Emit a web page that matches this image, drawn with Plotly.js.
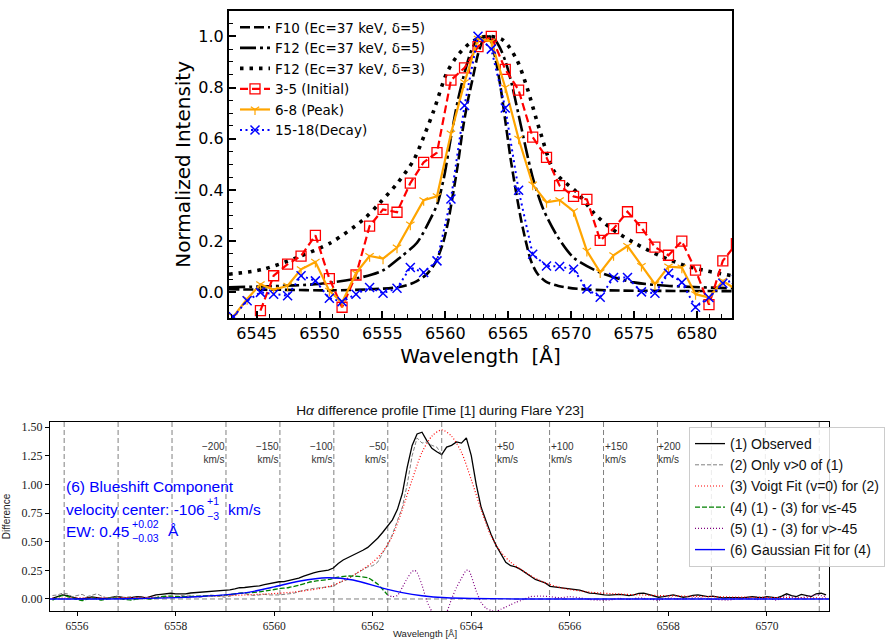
<!DOCTYPE html>
<html><head><meta charset="utf-8">
<script src="https://cdn.plot.ly/plotly-3.0.1.min.js"></script>
<style>html,body{margin:0;padding:0;background:#fff}#chart{width:891px;height:640px}</style>
</head><body><div id="chart"></div>
<script>
// ================= TOP PANEL DATA =================
// model curves
const f10Wave = [6542.8,6547,6551,6554,6556.2,6557.5,6558.5,6559.2,6559.8,6560.2,6560.6,6561.0,6561.4,6561.8,6562.2,6562.6,6563.0,6563.3,6563.6,6564.0,6564.4,6564.8,6565.2,6565.6,6566.0,6566.4,6566.8,6567.3,6568.0,6569.0,6570.5,6573,6577,6582.8];
const f10Int  = [0.012,0.010,0.008,0.012,0.020,0.038,0.070,0.115,0.190,0.270,0.380,0.500,0.640,0.750,0.840,0.930,0.985,1.000,0.985,0.910,0.800,0.660,0.520,0.400,0.290,0.200,0.125,0.075,0.042,0.025,0.014,0.008,0.006,0.005];

const f12d5Wave = [6542.8,6546,6550,6553,6555,6556.5,6557.75,6558.8,6559.4,6559.9,6560.5,6561.0,6561.6,6562.2,6562.8,6563.3,6563.8,6564.3,6564.8,6565.3,6565.8,6566.2,6566.6,6567.0,6567.8,6568.9,6570.2,6572.3,6575,6577.6,6582.8];
const f12d5Int  = [0.020,0.024,0.033,0.055,0.085,0.140,0.194,0.285,0.350,0.450,0.620,0.750,0.870,0.960,0.995,1.000,0.995,0.960,0.900,0.810,0.700,0.609,0.520,0.440,0.324,0.220,0.136,0.078,0.039,0.026,0.016];

const f12d3Wave = [6542.8,6545.5,6548.2,6550.9,6553.5,6554.8,6556.2,6557.5,6558.4,6559.1,6560.1,6560.9,6562.0,6563.3,6564.6,6565.7,6566.5,6567.5,6568.7,6570.5,6571.8,6573.1,6575.0,6577.1,6579.2,6580.8,6582.8];
const f12d3Int  = [0.071,0.090,0.136,0.194,0.285,0.350,0.427,0.518,0.622,0.712,0.855,0.920,0.975,1.000,0.985,0.907,0.800,0.635,0.470,0.389,0.311,0.253,0.194,0.142,0.103,0.084,0.065];

// observed profiles (shared wavelength grid)
const obsWave = [6543.14,6544.24,6545.30,6546.35,6547.46,6548.53,6549.67,6550.78,6551.79,6552.90,
                 6553.98,6555.05,6556.16,6557.22,6558.28,6559.34,6560.45,6561.53,6562.60,6563.66,
                 6564.77,6565.83,6566.95,6568.05,6569.09,6570.20,6571.26,6572.32,6573.38,6574.49,
                 6575.60,6576.67,6577.75,6578.81,6579.90,6580.97,6582.07,6583.15];
const initial = [null,null,-0.071,0.065,0.110,0.142,0.223,0.054,-0.058,0.068,
                 0.259,0.324,0.313,0.427,0.508,0.546,0.829,0.877,0.960,1.000,
                 0.871,0.790,0.606,0.527,0.417,0.375,0.363,0.203,0.249,0.315,
                 0.253,0.177,0.145,0.200,0.087,-0.048,0.123,0.190];
const peak    = [-0.095,-0.026,0.032,0.010,0.026,0.090,0.119,0.006,-0.039,0.075,
                 0.142,0.132,0.175,0.265,0.360,0.375,0.620,0.820,0.990,0.980,
                 0.800,0.600,0.421,0.352,0.360,0.317,0.162,0.078,0.145,0.181,
                 0.103,0.032,0.101,0.097,-0.007,-0.020,0.045,0.010];
const decay   = [-0.095,-0.033,0.000,-0.007,-0.013,0.065,0.045,-0.023,-0.036,-0.007,
                 0.019,-0.003,0.016,0.097,0.078,0.123,0.365,0.730,1.000,0.950,
                 0.720,0.399,0.149,0.103,0.101,0.090,0.013,-0.019,0.058,0.058,
                 0.002,-0.003,0.075,0.039,-0.058,-0.020,0.036,0.050];

const topNames = ['F10 (Ec=37 keV, δ=5)','F12 (Ec=37 keV, δ=5)','F12 (Ec=37 keV, δ=3)','3-5 (Initial)','6-8 (Peak)','15-18(Decay)'];

// ================= BOTTOM PANEL DATA =================
const obsBWave = [6555.5,6555.6,6555.7,6555.8,6555.9,6556.0,6556.1,6556.2,6556.3,6556.4,6556.5,6556.6,6556.7,6556.8,6556.9,
 6557.0,6557.1,6557.2,6557.3,6557.4,6557.5,6557.6,6557.7,6557.8,6557.9,6558.0,6558.1,6558.2,6558.3,6558.4,6558.5,6558.6,6558.7,6558.8,6558.9,
 6559.0,6559.1,6559.2,6559.3,6559.4,6559.5,6559.6,6559.7,6559.8,6559.9,6560.0,6560.1,6560.2,6560.3,6560.4,6560.5,6560.6,6560.7,6560.8,6560.9,
 6561.0,6561.1,6561.2,6561.3,6561.4,6561.5,6561.6,6561.7,6561.8,6561.9,6562.0,6562.1,6562.2,6562.3,6562.4,6562.5,6562.6,6562.7,6562.8,6562.9,
 6563.0,6563.1,6563.2,6563.3,6563.4,6563.5,6563.6,6563.7,6563.8,6563.9,6564.0,6564.1,6564.2,6564.3,6564.4,6564.5,6564.6,6564.7,6564.8,6564.9,
 6565.0,6565.1,6565.2,6565.3,6565.4,6565.5,6565.6,6565.7,6565.8,6565.9,6566.0,6566.1,6566.2,6566.3,6566.4,6566.5,6566.6,6566.7,6566.8,6566.9,
 6567.0,6567.1,6567.2,6567.3,6567.4,6567.5,6567.6,6567.7,6567.8,6567.9,6568.0,6568.1,6568.2,6568.3,6568.4,6568.5,6568.6,6568.7,6568.8,6568.9,
 6569.0,6569.1,6569.2,6569.3,6569.4,6569.5,6569.6,6569.7,6569.8,6569.9,6570.0,6570.1,6570.2,6570.3,6570.4,6570.5,6570.6,6570.7,6570.8,6570.9,
 6571.0,6571.1,6571.2];
const obsBVal = [0.005,0.020,0.035,0.030,0.015,0.005,0.000,0.008,0.018,0.012,0.004,0.006,0.015,0.022,0.015,
 0.008,0.012,0.020,0.018,0.010,0.022,0.035,0.040,0.045,0.050,0.045,0.042,0.045,0.052,0.055,0.060,0.062,0.068,0.070,0.072,
 0.078,0.080,0.088,0.098,0.100,0.104,0.108,0.115,0.125,0.135,0.142,0.150,0.152,0.160,0.172,0.182,0.200,0.215,0.228,0.238,
 0.245,0.252,0.270,0.310,0.340,0.360,0.380,0.400,0.425,0.450,0.490,0.530,0.580,0.635,0.690,0.780,0.920,1.150,1.340,1.440,
 1.455,1.380,1.315,1.285,1.260,1.325,1.340,1.370,1.360,1.405,1.250,1.000,0.800,0.680,0.565,0.470,0.400,0.320,0.290,0.280,
 0.258,0.230,0.205,0.170,0.155,0.140,0.110,0.105,0.100,0.095,0.092,0.085,0.078,0.065,0.050,0.048,0.040,0.035,0.033,0.035,
 0.040,0.035,0.030,0.035,0.048,0.050,0.040,0.025,0.015,0.020,0.030,0.035,0.025,0.015,0.020,0.032,0.035,0.025,0.020,0.025,
 0.020,0.010,0.012,0.015,0.012,0.010,0.015,0.020,0.015,0.012,0.020,0.015,0.010,0.025,0.045,0.030,0.020,0.040,0.030,0.020,
 0.045,0.050,0.035];

// (2) only v>0 of (1): blue side values
const grayWave = [6555.5,6555.6,6555.7,6555.8,6555.9,6556.0,6556.1,6556.2,6556.3,6556.4,6556.5,6556.6,6556.7,6556.8,6556.9,
 6557.0,6557.1,6557.2,6557.3,6557.4,6557.5,6557.6,6557.7,6557.8,6557.9,6558.0,6558.1,6558.2,6558.3,6558.4,6558.5,6558.6,6558.7,6558.8,6558.9,
 6559.0,6559.1,6559.2,6559.3,6559.4,6559.5,6559.6,6559.7,6559.8,6559.9,6560.0,6560.1,6560.2,6560.3,6560.4,6560.5,6560.6,6560.7,6560.8,6560.9,
 6561.0,6561.1,6561.2,6561.3,6561.4,6561.5,6561.6,6561.7,6561.8,6561.9,6562.0,6562.1,6562.2,6562.3,6562.4,6562.5,6562.6,6562.7,6562.8,6562.9,
 6563.0,6563.1,6563.2,6563.3,6563.4];
const grayVal = [0.030,0.035,0.050,0.045,0.020,0.030,0.040,0.020,0.030,0.045,0.025,0.010,0.015,0.020,0.012,
 0.015,0.020,0.015,0.010,0.012,0.015,0.012,0.010,0.020,0.025,0.020,0.025,0.035,0.032,0.020,0.015,0.025,0.035,0.030,0.020,
 0.015,0.025,0.040,0.050,0.048,0.035,0.030,0.035,0.040,0.035,0.033,0.035,0.040,0.048,0.050,0.065,0.078,0.085,0.092,0.095,
 0.100,0.105,0.110,0.140,0.155,0.170,0.205,0.230,0.258,0.280,0.290,0.320,0.400,0.470,0.565,0.680,0.800,1.000,1.250,1.405,
 1.360,1.370,1.340,1.325,1.260];

// (3) Voigt fit
const voigtWave = [6555.5,6557,6558,6559,6559.9,6560.4,6560.9,6561.2,6561.4,6561.6,6561.8,6562.0,6562.2,6562.4,6562.6,6562.8,6563.0,6563.2,6563.4,
 6563.6,6563.8,6564.0,6564.2,6564.4,6564.6,6564.8,6565.0,6565.2,6565.4,6565.6,6565.9,6566.4,6566.9,6567.8,6568.8,6569.8,6571.2];
const voigtVal = [0.008,0.012,0.018,0.028,0.045,0.060,0.090,0.120,0.160,0.205,0.260,0.320,0.410,0.550,0.780,1.040,1.280,1.420,1.475,
 1.420,1.280,1.040,0.780,0.550,0.410,0.320,0.260,0.205,0.160,0.125,0.090,0.060,0.045,0.030,0.020,0.014,0.008];

// (4) (1)-(3) for v<=-45
const greenWave = [6555.5,6555.7,6555.9,6556.1,6556.3,6556.5,6556.7,6556.9,6557.1,6557.3,6557.5,6557.7,6557.9,6558.1,6558.3,6558.5,6558.7,6558.9,
 6559.1,6559.3,6559.5,6559.7,6559.9,6560.1,6560.3,6560.5,6560.7,6560.9,6561.1,6561.3,6561.5,6561.7,6561.9,6562.0,6562.1,6562.2,6562.3];
const greenVal = [-0.010,0.030,0.010,-0.015,0.010,-0.010,0.010,0.000,-0.010,0.005,0.000,0.020,0.025,0.020,0.022,0.025,0.028,0.030,
 0.038,0.050,0.055,0.062,0.075,0.090,0.100,0.120,0.145,0.160,0.170,0.190,0.200,0.197,0.185,0.160,0.130,0.085,0.035];

// (5) (1)-(3) for v>-45
const purpleWave = [6562.3,6562.4,6562.5,6562.6,6562.7,6562.8,6562.85,6562.9,6563.0,6563.1,6563.2,6563.3,6563.4,6563.5,6563.6,6563.7,6563.8,6563.9,6563.95,
 6564.0,6564.1,6564.2,6564.3,6564.4,6564.5,6564.6,6564.7,6564.8,6564.9,6565.0,6565.2,6565.4,6565.6,6565.8,6566.0,6566.2,6566.4,6566.6,6566.8,
 6567.0,6567.2,6567.4,6567.6,6567.8,6568.0,6568.2,6568.4,6568.6,6568.8,6569.0,6569.2,6569.4,6569.6,6569.8,6570.0,6570.2,6570.4,6570.6,6570.8,6571.0,6571.2];
const purpleVal = [0.035,0.020,0.030,0.100,0.180,0.240,0.250,0.230,0.120,-0.020,-0.110,-0.180,-0.200,-0.120,0.000,0.100,0.180,0.250,0.250,
 0.200,0.070,-0.030,-0.080,-0.100,-0.110,-0.090,-0.070,-0.050,-0.030,-0.015,0.020,0.025,0.020,0.010,0.020,0.010,-0.005,-0.010,-0.010,
 0.005,-0.005,0.010,0.000,-0.010,0.010,0.000,0.005,0.012,0.000,-0.005,-0.010,0.000,0.005,-0.005,0.008,-0.010,0.030,0.005,0.020,0.035,0.020];

// (6) Gaussian fit for (4)
const gaussWave = [6555.45,6557,6558,6558.5,6559,6559.5,6560,6560.5,6561.08,6561.6,6562.2,6562.6,6563,6563.5,6564,6565,6571.26];
const gaussVal  = [0.000,0.002,0.012,0.022,0.036,0.060,0.105,0.155,0.185,0.165,0.095,0.055,0.028,0.010,0.004,0.000,0.000];

const botNames = ['(1) Observed','(2) Only v>0 of (1)','(3) Voigt Fit (v=0) for (2)','(4) (1) - (3) for v≤-45','(5) (1) - (3) for v>-45','(6) Gaussian Fit for (4)'];

// velocity reference lines
const lambda0 = 6563.4;
const velocities = [-350,-300,-250,-200,-150,-100,-50,0,50,100,150,200,250,300,350];
const labeledVel = [-200,-150,-100,-50,50,100,150,200];

// ================= FIGURE =================
const W = 891, H = 640;
const px = x => x / W, py = y => 1 - y / H;
const TOPF = 'DejaVu Sans', SANS = 'Liberation Sans', SERIF = 'Liberation Serif';

const traces = [
  {x:f10Wave, y:f10Int, name:topNames[0], mode:'lines', line:{color:'black', width:2.6, dash:'10px,4px', shape:'spline', smoothing:0.8}, xaxis:'x', yaxis:'y', legend:'legend'},
  {x:f12d5Wave, y:f12d5Int, name:topNames[1], mode:'lines', line:{color:'black', width:2.6, dash:'16px,4px,3px,4px', shape:'spline', smoothing:0.8}, xaxis:'x', yaxis:'y', legend:'legend'},
  {x:f12d3Wave, y:f12d3Int, name:topNames[2], mode:'lines', line:{color:'black', width:3.6, dash:'3.5px,6px', shape:'spline', smoothing:0.8}, xaxis:'x', yaxis:'y', legend:'legend'},
  {x:obsWave, y:initial, name:topNames[3], mode:'lines+markers', line:{color:'#ff0000', width:2.2, dash:'8px,4px'}, marker:{symbol:'square-open', size:10, color:'#ff0000', line:{width:1.3, color:'#ff0000'}}, xaxis:'x', yaxis:'y', legend:'legend'},
  {x:obsWave, y:peak, name:topNames[4], mode:'lines+markers', line:{color:'#ffa500', width:2.2}, marker:{symbol:'y-down-open', size:7, color:'#ffa500', line:{width:1.2, color:'#ffa500'}}, xaxis:'x', yaxis:'y', legend:'legend'},
  {x:obsWave, y:decay, name:topNames[5], mode:'lines+markers', line:{color:'#0000ff', width:2, dash:'2px,3.5px'}, marker:{symbol:'x-thin-open', size:9, color:'#0000ff', line:{width:1.5, color:'#0000ff'}}, xaxis:'x', yaxis:'y', legend:'legend'},

  {x:obsBWave, y:obsBVal, name:botNames[0], mode:'lines', line:{color:'black', width:1.3}, xaxis:'x2', yaxis:'y2', legend:'legend2'},
  {x:grayWave, y:grayVal, name:botNames[1], mode:'lines', line:{color:'gray', width:1, dash:'4px,2px'}, xaxis:'x2', yaxis:'y2', legend:'legend2'},
  {x:voigtWave, y:voigtVal, name:botNames[2], mode:'lines', line:{color:'red', width:1.2, dash:'1px,2px', shape:'spline', smoothing:0.8}, xaxis:'x2', yaxis:'y2', legend:'legend2'},
  {x:greenWave, y:greenVal, name:botNames[3], mode:'lines', line:{color:'green', width:1.3, dash:'5px,2px', shape:'spline', smoothing:0.6}, xaxis:'x2', yaxis:'y2', legend:'legend2'},
  {x:purpleWave, y:purpleVal, name:botNames[4], mode:'lines', line:{color:'purple', width:1.2, dash:'1px,2px', shape:'spline', smoothing:0.6}, xaxis:'x2', yaxis:'y2', legend:'legend2'},
  {x:gaussWave, y:gaussVal, name:botNames[5], mode:'lines', line:{color:'blue', width:1.4, shape:'spline', smoothing:0.8}, xaxis:'x2', yaxis:'y2', legend:'legend2'}
];

const shapes = [];
const annotations = [];
const CLIGHT = 299792.458;
velocities.forEach(v => {
  const lam = lambda0 * (1 + v / CLIGHT);
  shapes.push({type:'line', xref:'x2', yref:'y2 domain', x0:lam, x1:lam, y0:0, y1:1, layer:'below',
               line:{color:'gray', width:1, dash:'5px,3px'}});
  if (labeledVel.indexOf(v) >= 0) {
    const neg = v < 0;
    annotations.push({xref:'x2', yref:'y2', x:lam, y:1.275, showarrow:false,
      text:(neg ? '−' + Math.abs(v) : '+' + v) + '<br>km/s',
      xanchor: neg ? 'right' : 'left', align: neg ? 'right' : 'left', yanchor:'middle',
      font:{family:SANS, size:10, color:'#333'}, borderpad:0});
  }
});
shapes.push({type:'line', xref:'x2 domain', yref:'y2', x0:0, x1:1, y0:0, y1:0, layer:'below', line:{color:'gray', width:1, dash:'5px,3px'}});

// blue info text
const blue = '#0000ff';
const bt = (text, x, y, size) => ({xref:'paper', yref:'paper', x:px(x), y:py(y), xanchor:'left', yanchor:'middle', showarrow:false, text:text, font:{family:SANS, size:size, color:blue}, borderpad:0});
annotations.push(bt('(6) Blueshift Component', 65, 486, 15.5));
annotations.push(bt('velocity center: -106', 65, 509, 15.5));
annotations.push(bt('+1', 206, 501, 10.5));
annotations.push(bt('−3', 206, 516, 10.5));
annotations.push(bt('km/s', 227, 509, 15.5));
annotations.push(bt('EW: 0.45', 65, 531, 15.5));
annotations.push(bt('+0.02', 131, 524, 10.5));
annotations.push(bt('−0.03', 131, 538, 10.5));
annotations.push(bt('Å', 167, 530, 15.5));

// bottom x-axis title (placed as text below the tick labels)
annotations.push({xref:'paper', yref:'paper', x:px(425), y:py(633.5), xanchor:'center', yanchor:'middle', showarrow:false,
  text:'Wavelength [Å]', font:{family:SANS, size:9.5, color:'#222'}, borderpad:0});

const layout = {
  width: W, height: H,
  margin: {l:0, r:0, t:0, b:0, autoexpand:false},
  paper_bgcolor:'white', plot_bgcolor:'white',
  showlegend: true,
  title: {text:'H<i>α</i> difference profile [Time [1] during Flare Y23]', x:px(440), xanchor:'center', y:py(410), yanchor:'middle', xref:'paper', yref:'paper', font:{family:SANS, size:13.7, color:'#111'}},
  xaxis: {domain:[px(229), px(732)], anchor:'y', range:[6542.8, 6582.8], tick0:6545, dtick:5,
          ticks:'inside', ticklen:7, tickwidth:1.5, tickcolor:'black',
          minor:{dtick:1, ticks:'inside', ticklen:4, tickwidth:1.2, tickcolor:'black'},
          showline:true, mirror:true, linecolor:'black', linewidth:2, showgrid:false, zeroline:false,
          tickfont:{family:TOPF, size:16, color:'black'},
          title:{text:'Wavelength  [Å]', font:{family:TOPF, size:20, color:'black'}, standoff:7}},
  yaxis: {domain:[py(318), py(10.7)], anchor:'x', range:[-0.1, 1.1], tick0:0, dtick:0.2, tickformat:'.1f',
          ticks:'inside', ticklen:7, tickwidth:1.5, tickcolor:'black',
          minor:{dtick:0.05, ticks:'inside', ticklen:4, tickwidth:1.2, tickcolor:'black'},
          showline:true, mirror:true, linecolor:'black', linewidth:2, showgrid:false, zeroline:false,
          tickfont:{family:TOPF, size:16, color:'black'},
          title:{text:'Normalized Intensity', font:{family:TOPF, size:20, color:'black'}, standoff:2}},
  xaxis2: {domain:[px(50), px(829)], anchor:'y2', range:[6555.45, 6571.26], tick0:6556, dtick:2,
          ticks:'outside', ticklen:4, tickwidth:1, tickcolor:'black',
          showline:true, mirror:true, linecolor:'black', linewidth:1, showgrid:false, zeroline:false,
          tickfont:{family:SERIF, size:11.5, color:'#222'}},
  yaxis2: {domain:[py(611), py(422)], anchor:'x2', range:[-0.105, 1.544], tick0:0, dtick:0.25, tickformat:'.2f',
          ticks:'outside', ticklen:4, tickwidth:1, tickcolor:'black',
          showline:true, mirror:true, linecolor:'black', linewidth:1, showgrid:false, zeroline:false,
          tickfont:{family:SERIF, size:12, color:'#222'},
          title:{text:'Difference', font:{family:SANS, size:10, color:'#222'}, standoff:9}},
  legend: {x:px(235), y:py(12), xanchor:'left', yanchor:'top', bgcolor:'rgba(0,0,0,0)', borderwidth:0,
           font:{family:TOPF, size:13.5, color:'black'}, itemwidth:30, tracegroupgap:0},
  legend2: {x:px(689), y:py(427), xanchor:'left', yanchor:'top', bgcolor:'rgba(255,255,255,0.85)', bordercolor:'#cccccc', borderwidth:1,
           font:{family:SANS, size:14, color:'#111'}, itemwidth:30, tracegroupgap:0},
  shapes: shapes,
  annotations: annotations
};

Plotly.newPlot('chart', traces, layout, {displayModeBar:false, responsive:false});
</script>
</body></html>
